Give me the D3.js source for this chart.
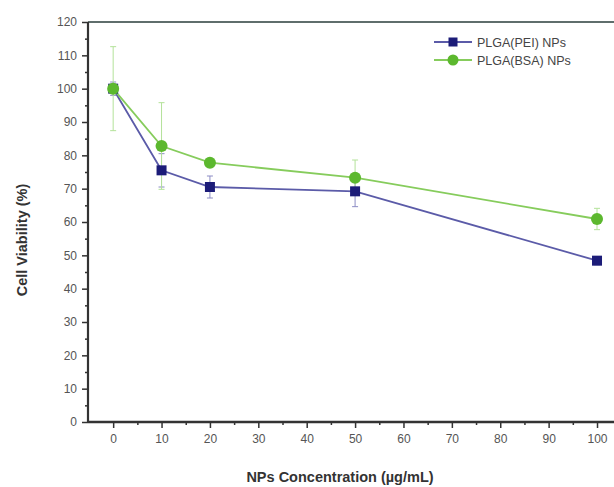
<!DOCTYPE html>
<html>
<head>
<meta charset="utf-8">
<script src="https://cdn.jsdelivr.net/npm/d3@7"></script>
<style>
  html, body { margin: 0; padding: 0; background: #fff; }
  svg { display: block; font-family: "Liberation Sans", Arial, sans-serif; }
</style>
</head>
<body>
<svg id="chart" width="614" height="487"></svg>
<script>
// Concentrations (µg/mL)
const concentrations = [0, 10, 20, 50, 100];
// Cell viability (%) and standard deviations
const peiViability = [100, 75.5, 70.5, 69.2, 48.4];
const peiError = [2, 5, 3.3, 4.6, 1.2];
const bsaViability = [100, 82.8, 77.8, 73.3, 60.9];
const bsaError = [12.6, 13, 1, 5.3, 3.2];
const seriesNames = ["PLGA(PEI) NPs", "PLGA(BSA) NPs"];
const xTicks = [0, 10, 20, 30, 40, 50, 60, 70, 80, 90, 100];
const yTicks = [0, 10, 20, 30, 40, 50, 60, 70, 80, 90, 100, 110, 120];

const svg = d3.select("#chart");
const plotLeft = 88, plotTop = 22, plotRight = 640, plotBottom = 422;

const x = d3.scaleLinear().domain([-5.2, (plotRight - 113) / 4.84]).range([plotLeft, plotRight]);
const y = d3.scaleLinear().domain([0, 120]).range([plotBottom, plotTop]);

const series = [
  { name: seriesNames[0], values: peiViability, err: peiError,
    line: "#5b5ba8", marker: "#1c1c78", errColor: "#8c8cc4", shape: "square" },
  { name: seriesNames[1], values: bsaViability, err: bsaError,
    line: "#86cc5c", marker: "#5cb82e", errColor: "#b4e29a", shape: "circle" }
];

// Top frame line
svg.append("line")
  .attr("x1", plotLeft).attr("x2", 614).attr("y1", plotTop).attr("y2", plotTop)
  .attr("stroke", "#5f6e6c").attr("stroke-width", 2.2);

// Axes: major ticks every 10, minor every 5
const xAxis = svg.append("g").attr("transform", `translate(0,${plotBottom})`);
xAxis.call(d3.axisBottom(x).tickValues(d3.range(5, 101, 10)).tickSize(3).tickFormat(""));
xAxis.call(g => {
  const g2 = g.append("g");
  g2.call(d3.axisBottom(x).tickValues(xTicks).tickSize(6).tickPadding(6).tickFormat(d3.format("d")));
  g2.select(".domain").remove();
});
xAxis.selectAll(".domain").attr("stroke", "#333").attr("stroke-width", 2.4).attr("d", `M${plotLeft},0H${614}`);
xAxis.selectAll(".tick line").attr("stroke", "#333").attr("stroke-width", 1.5);
xAxis.selectAll(".tick text").attr("fill", "#555").attr("font-size", 12);

const yAxis = svg.append("g").attr("transform", `translate(${plotLeft},0)`);
yAxis.call(d3.axisLeft(y).tickValues(d3.range(5, 120, 10)).tickSize(3).tickFormat(""));
yAxis.call(g => {
  const g2 = g.append("g");
  g2.call(d3.axisLeft(y).tickValues(yTicks).tickSize(6).tickPadding(5).tickFormat(d3.format("d")));
  g2.select(".domain").remove();
});
yAxis.selectAll(".domain").attr("stroke", "#333").attr("stroke-width", 2.2).attr("d", `M0,${plotBottom}V${plotTop}`);
yAxis.selectAll(".tick line").attr("stroke", "#333").attr("stroke-width", 1.5);
yAxis.selectAll(".tick text").attr("fill", "#555").attr("font-size", 12);

// Axis titles
svg.append("text")
  .attr("x", 340).attr("y", 482).attr("text-anchor", "middle")
  .attr("font-size", 14.5).attr("font-weight", "bold").attr("fill", "#333")
  .text("NPs Concentration (\u00b5g/mL)");
svg.append("text")
  .attr("transform", "translate(27,240) rotate(-90)").attr("text-anchor", "middle")
  .attr("font-size", 14.5).attr("font-weight", "bold").attr("fill", "#333")
  .text("Cell Viability (%)");

const lineGen = d3.line().x((d, i) => x(concentrations[i])).y(d => y(d));

// Error bars
series.forEach(s => {
  const g = svg.append("g");
  s.values.forEach((v, i) => {
    const cx = x(concentrations[i]);
    const y1 = y(v - s.err[i]), y2 = y(v + s.err[i]);
    g.append("line").attr("x1", cx).attr("x2", cx).attr("y1", y1).attr("y2", y2)
      .attr("stroke", s.errColor).attr("stroke-width", 1);
    [y1, y2].forEach(yy => g.append("line")
      .attr("x1", cx - 3).attr("x2", cx + 3).attr("y1", yy).attr("y2", yy)
      .attr("stroke", s.errColor).attr("stroke-width", 1));
  });
});

function drawMarker(g, s, cx, cy, size) {
  if (s.shape === "square") {
    g.append("rect").attr("x", cx - size / 2).attr("y", cy - size / 2)
      .attr("width", size).attr("height", size).attr("fill", s.marker);
  } else {
    g.append("circle").attr("cx", cx).attr("cy", cy).attr("r", size / 2 + 1)
      .attr("fill", s.marker);
  }
}

// Lines and markers
series.forEach(s => {
  svg.append("path").datum(s.values).attr("d", lineGen)
    .attr("fill", "none").attr("stroke", s.line).attr("stroke-width", 1.8);
});
series.forEach(s => {
  const g = svg.append("g");
  s.values.forEach((v, i) => drawMarker(g, s, x(concentrations[i]), y(v), 10));
});

// Legend
series.forEach((s, i) => {
  const ly = 42 + i * 18;
  const g = svg.append("g");
  g.append("line").attr("x1", 434).attr("x2", 472).attr("y1", ly).attr("y2", ly)
    .attr("stroke", s.line).attr("stroke-width", 1.8);
  drawMarker(g, s, 453, ly, 9);
  g.append("text").attr("x", 477).attr("y", ly + 4.5)
    .attr("font-size", 12.5).attr("fill", "#444").text(s.name);
});
</script>
</body>
</html>
